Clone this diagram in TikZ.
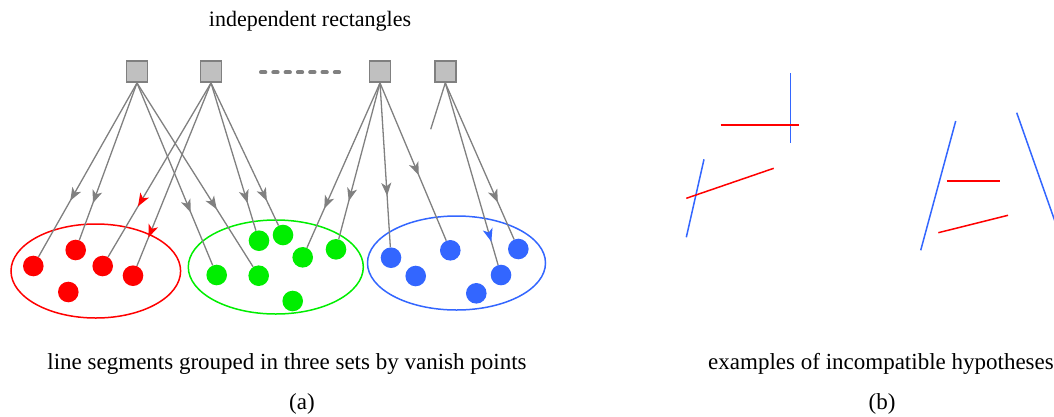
\documentclass[tikz,border=0pt]{standalone}
\usepackage{fontspec}
\setmainfont{Liberation Serif}
\usetikzlibrary{arrows.meta,decorations.markings}
\definecolor{cred}{HTML}{FF0000}
\definecolor{cgreen}{HTML}{00EE00}
\definecolor{cblue}{HTML}{3366FF}
\definecolor{cgray}{HTML}{808080}
\definecolor{cbox}{HTML}{C0C0C0}
\tikzset{
  sq/.style={draw=cgray,fill=cbox,line width=1.5pt,minimum size=21pt,inner sep=0pt},
  dot/.style={circle,fill=#1,minimum size=20.6pt,inner sep=0pt},
  conn/.style={draw=cgray,line width=1.3pt},
  tipat/.style 2 args={postaction={decorate,decoration={markings,mark=at position #1 with {\arrow[#2,line width=1.3pt]{Stealth[length=13pt,width=10pt,inset=3.5pt]}}}}},
  seg/.style={line width=1.5pt},
  lab/.style={font=\fontsize{23}{27}\selectfont,anchor=base,inner sep=0pt}
}
\begin{document}
\begin{tikzpicture}[x=1pt,y=-1pt]
\useasboundingbox (0,0) rectangle (1054,416);
% texts
\node[lab,font=\fontsize{22}{26}\selectfont] (t1) at (310,26.5) {independent rectangles};
\node[lab] (t2) at (287,369.5) {line segments grouped in three sets by vanish points};
\node[lab] (t3) at (302,409) {(a)};
\node[lab] (t4) at (881,369.5) {examples of incompatible hypotheses};
\node[lab] (t5) at (882,409) {(b)};
% rectangles
\node[sq] (s1) at (137,71.7) {};
\node[sq] (s2) at (211,71.7) {};
\node[sq] (s3) at (380,71.7) {};
\node[sq] (s4) at (445.3,71.7) {};
\draw[cgray,line width=4pt,line cap=round,dash pattern=on 4.3pt off 8pt] (261,72.3) -- (340,72.3);
% ellipses
\draw[cred,line width=1.5pt] (95.8,271) ellipse [x radius=84.8,y radius=47];
\draw[cgreen,line width=1.5pt] (275.8,267) ellipse [x radius=87.5,y radius=47];
\draw[cblue,line width=1.5pt] (456.5,263) ellipse [x radius=89,y radius=47];
% dots
\node[dot=cred] (r1) at (33.3,266) {};
\node[dot=cred] (r2) at (75.7,250) {};
\node[dot=cred] (r3) at (102.7,266) {};
\node[dot=cred] (r4) at (133,275.7) {};
\node[dot=cred] (r5) at (68.3,292) {};
\node[dot=cgreen] (g1) at (216.7,275) {};
\node[dot=cgreen] (g2) at (259,240.7) {};
\node[dot=cgreen] (g3) at (283,235) {};
\node[dot=cgreen] (g4) at (302.7,257.3) {};
\node[dot=cgreen] (g5) at (336,249.3) {};
\node[dot=cgreen] (g6) at (258.7,275.7) {};
\node[dot=cgreen] (g7) at (292.7,301) {};
\node[dot=cblue] (b1) at (391,257.7) {};
\node[dot=cblue] (b2) at (415.7,276) {};
\node[dot=cblue] (b3) at (450.3,250.3) {};
\node[dot=cblue] (b4) at (476.3,293.3) {};
\node[dot=cblue] (b5) at (501,275) {};
\node[dot=cblue] (b6) at (518.3,249) {};
\coordinate (stub) at (430.7,129.3);
% connectors
\path[conn,tipat={0.677}{cgray}] (s1.south) -- (r1);
\path[conn,tipat={0.765}{cgray}] (s1.south) -- (r2);
\path[conn,tipat={0.71}{cgray}] (s1.south) -- (g1);
\path[conn,tipat={0.687}{cgray}] (s1.south) -- (g6);
\path[conn,tipat={0.709}{cred}] (s2.south) -- (r3);
\path[conn,tipat={0.845}{cred}] (s2.south) -- (r4);
\path[conn,tipat={0.813}{cgray}] (s2.south) -- (g2);
\path[conn,tipat={0.828}{cgray}] (s2.south) -- (g3);
\path[conn,tipat={0.763}{cgray}] (s3.south) -- (g4);
\path[conn,tipat={0.756}{cgray}] (s3.south) -- (g5);
\path[conn,tipat={0.687}{cgray}] (s3.south) -- (b1);
\path[conn,tipat={0.585}{cgray}] (s3.south) -- (b3);
\path[conn] (s4.south) -- (stub);
\path[conn,tipat={0.872}{cblue}] (s4.south) -- (b5);
\path[conn,tipat={0.764}{cgray}] (s4.south) -- (b6);
% right panel: example segments
\draw[seg,draw=cblue] (790.7,73.3) -- (790.7,142.7);
\draw[seg,draw=cred] (720.7,125) -- (799.3,125);
\draw[seg,draw=cblue] (704,159.3) -- (686.3,237.3);
\draw[seg,draw=cred] (686.3,198.3) -- (773.7,168.3);
\draw[seg,draw=cblue] (955.7,121) -- (920.7,250.3);
\draw[seg,draw=cred] (946.7,181) -- (999.7,181);
\draw[seg,draw=cred] (938.3,232.7) -- (1008,215.3);
\draw[seg,draw=cblue] (1016.7,112.7) -- (1058,230);
\end{tikzpicture}
\end{document}
